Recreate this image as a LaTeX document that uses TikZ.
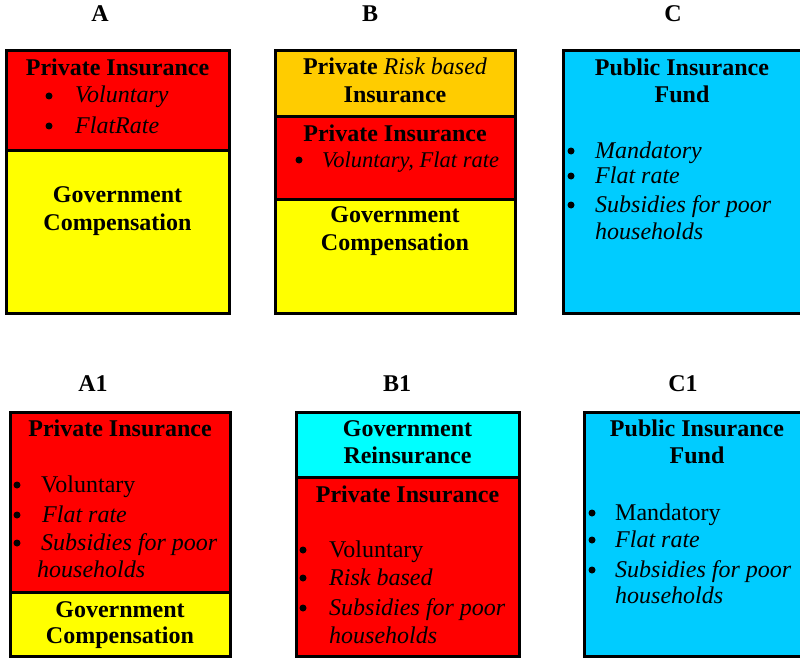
\documentclass[tikz,border=0pt]{standalone}
\usepackage{fontspec}
\setmainfont{Liberation Serif}
\definecolor{pred}{RGB}{255,0,0}
\definecolor{pyel}{RGB}{255,255,0}
\definecolor{porg}{RGB}{255,204,0}
\definecolor{pcyan}{RGB}{0,204,255}
\definecolor{paqua}{RGB}{0,255,255}
\begin{document}
\begin{tikzpicture}[x=1pt,y=-1pt,
  box/.style={draw=black, line width=3pt},
  hd/.style={anchor=base, font=\fontsize{24}{28}\selectfont\bfseries},
  it/.style={anchor=base west, inner sep=0pt, font=\fontsize{24}{28}\selectfont\itshape},
  rm/.style={anchor=base west, inner sep=0pt, font=\fontsize{24}{28}\selectfont},
  bul/.style={fill=black}]
\useasboundingbox (0,0) rectangle (800,658);
% ---------- A ----------
\filldraw[box, fill=pred] (6,51) rectangle (229,150);
\filldraw[box, fill=pyel] (6,150) rectangle (229,313);
\node[hd] (aT) at (100,22) {A};
\node[hd] (aP) at (117.5,76) {Private Insurance};
\fill[bul] (49,96) circle (3.5);
\node[it] (aV) at (75,103) {Voluntary};
\fill[bul] (49,126) circle (3.5);
\node[it] (aF) at (75,133) {FlatRate};
\node[hd] (aG) at (117.5,202) {Government};
\node[hd] (aC) at (117.5,230) {Compensation};
% ---------- B ----------
\filldraw[box, fill=porg] (275,51) rectangle (515,117);
\filldraw[box, fill=pred] (275,117) rectangle (515,199);
\filldraw[box, fill=pyel] (275,199) rectangle (515,313);
\node[hd] (bT) at (370,22) {B};
\node[hd] (bR) at (395,75) {Private \mdseries\itshape Risk based};
\node[hd] (bI) at (395,103) {Insurance};
\node[hd] (bP) at (395,142) {Private Insurance};
\fill[bul] (299,160) circle (3.5);
\node[it, font=\fontsize{22.5}{27}\selectfont\itshape] (bV) at (322,167) {Voluntary, Flat rate};
\node[hd] (bG) at (395,222) {Government};
\node[hd] (bC) at (395,250) {Compensation};
% ---------- C ----------
\filldraw[box, fill=pcyan] (563,51) rectangle (804,313);
\node[hd] (cT) at (673,22) {C};
\node[hd] (cP) at (682,76) {Public Insurance};
\node[hd] (cF) at (682,103) {Fund};
\fill[bul] (571,151) circle (3.5);
\node[it] (cM) at (595,158) {Mandatory};
\fill[bul] (571,176) circle (3.5);
\node[it] (cR) at (595,183) {Flat rate};
\fill[bul] (571,205) circle (3.5);
\node[it] (cS) at (595,212) {Subsidies for poor};
\node[it] (cH) at (595,239) {households};
% ---------- A1 ----------
\filldraw[box, fill=pred] (10,412) rectangle (230,592);
\filldraw[box, fill=pyel] (10,592) rectangle (230,656);
\node[hd] (a1T) at (93,391) {A1};
\node[hd] (a1P) at (120,436) {Private Insurance};
\fill[bul] (17,485) circle (3.5);
\node[rm] (a1V) at (41,492) {Voluntary};
\fill[bul] (17,515) circle (3.5);
\node[it] (a1F) at (42,522) {Flat rate};
\fill[bul] (17,543) circle (3.5);
\node[it] (a1S) at (41,550) {Subsidies for poor};
\node[it] (a1H) at (37,577) {households};
\node[hd] (a1G) at (120,617) {Government};
\node[hd] (a1C) at (120,643) {Compensation};
% ---------- B1 ----------
\filldraw[box, fill=paqua] (296,412) rectangle (519,477);
\filldraw[box, fill=pred] (296,477) rectangle (519,656);
\node[hd] (b1T) at (397,391) {B1};
\node[hd] (b1G) at (407.5,436) {Government};
\node[hd] (b1R) at (407.5,463) {Reinsurance};
\node[hd] (b1P) at (407.5,502) {Private Insurance};
\fill[bul] (303,550) circle (3.5);
\node[rm] (b1V) at (329,557) {Voluntary};
\fill[bul] (303,578) circle (3.5);
\node[it] (b1K) at (329,585) {Risk based};
\fill[bul] (303,608) circle (3.5);
\node[it] (b1S) at (329,615) {Subsidies for poor};
\node[it] (b1H) at (329,643) {households};
% ---------- C1 ----------
\filldraw[box, fill=pcyan] (584,412) rectangle (812,656);
\node[hd] (c1T) at (683,391) {C1};
\node[hd] (c1P) at (697,436) {Public Insurance};
\node[hd] (c1F) at (697,463) {Fund};
\fill[bul] (592,513) circle (3.5);
\node[rm] (c1M) at (615,520) {Mandatory};
\fill[bul] (592,540) circle (3.5);
\node[it] (c1R) at (615,547) {Flat rate};
\fill[bul] (592,570) circle (3.5);
\node[it] (c1S) at (615,577) {Subsidies for poor};
\node[it] (c1H) at (615,603) {households};
\end{tikzpicture}
\end{document}
